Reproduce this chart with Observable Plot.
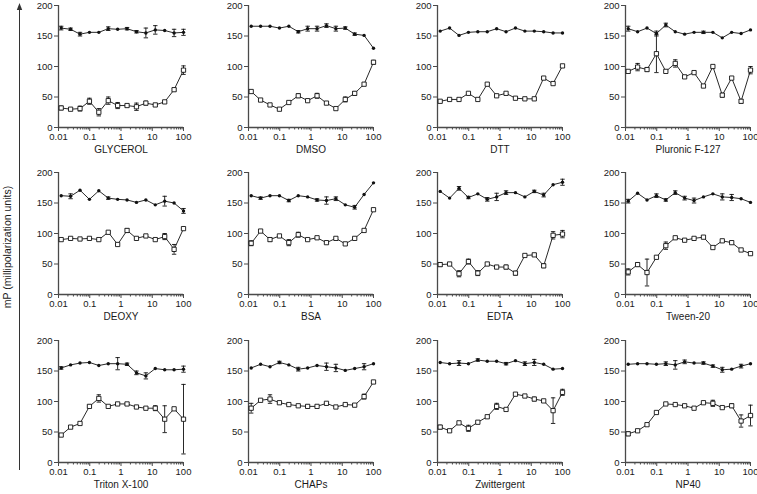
<!DOCTYPE html>
<html><head><meta charset="utf-8">
<script src="https://cdn.jsdelivr.net/npm/d3@7"></script>
<script src="https://cdn.jsdelivr.net/npm/@observablehq/plot@0.6"></script>
<style>
html,body{margin:0;padding:0;background:#fff;overflow:hidden}
#chart{position:relative;width:757px;height:494px;font-family:"Liberation Sans",Arial,sans-serif;overflow:hidden}
.panel{position:absolute;width:175px;height:159px}
.panel svg{max-width:none !important}
#overlay{position:absolute;left:0;top:0}
</style></head><body><div id="chart"></div>
<script>
// x: two-fold dilution series (concentration)
const concentrations = [0.0122, 0.0244, 0.0488, 0.0977, 0.195, 0.391, 0.781, 1.5625, 3.125, 6.25, 12.5, 25, 50, 100];
const xTicksMajor = [0.01, 0.1, 1, 10, 100];
const yTicks = [0, 50, 100, 150, 200];
const yLabel = "mP (millipolarization units)";
const panelNames = ["GLYCEROL","DMSO","DTT","Pluronic F-127","DEOXY","BSA","EDTA","Tween-20","Triton X-100","CHAPs","Zwittergent","NP40"];

// filled circles (upper series) and open squares (lower series), with error-bar half-lengths
const glycerolFilled    = [163,161,153,156,156,162,161,162,157,155,160,159,155,156];
const glycerolFilledErr = [3,2,3,0,0,3,0,2,2,8,7,0,6,5];
const glycerolOpen      = [32,30,31,43,25,44,36,36,34,40,37,42,62,94];
const glycerolOpenErr   = [3,0,4,5,6,6,5,2,6,3,2,0,2,7];

const dmsoFilled    = [166,166,166,163,166,157,162,162,167,162,163,153,151,130];
const dmsoFilledErr = [0,0,0,0,0,2,4,4,3,4,2,2,0,0];
const dmsoOpen      = [59,45,37,30,41,52,44,52,40,31,46,56,71,107];
const dmsoOpenErr   = [0,0,0,0,0,3,0,4,0,0,4,3,0,3];

const dttFilled    = [158,163,151,156,157,157,162,157,163,158,158,157,155,155];
const dttFilledErr = [0,0,0,0,0,0,0,0,0,0,0,0,0,0];
const dttOpen      = [43,46,46,56,46,71,52,56,48,47,47,81,72,101];
const dttOpenErr   = [0,0,0,0,0,0,0,0,0,0,0,0,0,0];

const pluronicFilled    = [162,157,163,154,168,157,153,156,156,156,147,156,154,160];
const pluronicFilledErr = [4,0,0,4,3,0,0,0,2,0,0,0,0,0];
const pluronicOpen      = [92,99,95,121,92,105,83,90,68,100,53,81,43,94];
const pluronicOpenErr   = [0,6,3,31,0,6,0,0,0,0,3,0,3,6];

const deoxyFilled    = [162,161,171,156,170,158,156,155,151,155,147,153,150,137];
const deoxyFilledErr = [0,4,0,0,0,2,0,0,0,0,0,8,0,4];
const deoxyOpen      = [90,92,91,92,90,102,82,105,92,96,90,95,74,108];
const deoxyOpenErr   = [0,0,0,0,0,0,0,3,0,0,0,5,8,0];

const bsaFilled    = [162,158,162,162,154,162,160,155,154,157,147,143,164,183];
const bsaFilledErr = [0,2,0,0,2,0,0,2,6,3,0,3,0,0];
const bsaOpen      = [84,104,90,96,85,98,90,93,85,92,83,92,105,139];
const bsaOpenErr   = [4,0,3,0,5,4,0,0,0,0,0,0,0,0];

const edtaFilled    = [169,158,174,159,165,156,160,167,167,160,169,163,180,184];
const edtaFilledErr = [0,0,3,2,0,3,6,3,0,0,2,3,0,5];
const edtaOpen      = [49,50,34,54,35,50,45,45,35,64,65,47,97,99];
const edtaOpenErr   = [3,0,5,4,4,0,0,3,3,0,2,3,6,6];

const tweenFilled    = [153,166,155,162,155,167,158,154,160,165,160,159,157,151];
const tweenFilledErr = [3,0,0,3,2,3,3,4,0,0,5,5,0,0];
const tweenOpen      = [37,49,36,61,80,93,89,92,94,77,88,85,73,67];
const tweenOpenErr   = [5,3,22,0,6,0,0,0,0,0,0,0,0,0];

const tritonFilled    = [155,160,163,164,159,162,162,161,147,142,154,152,152,153];
const tritonFilledErr = [2,0,0,0,0,0,10,2,3,5,0,0,0,5];
const tritonOpen      = [45,58,64,92,105,92,96,96,91,89,89,71,88,71];
const tritonOpenErr   = [0,2,0,2,6,0,0,2,0,0,4,22,0,57];

const chapsFilled    = [155,161,157,164,160,153,155,159,157,155,151,154,157,162];
const chapsFilledErr = [0,0,0,2,0,3,0,0,6,6,0,0,5,0];
const chapsOpen      = [89,102,104,98,95,93,92,92,97,91,95,94,108,132];
const chapsOpenErr   = [8,0,7,0,0,0,2,0,0,0,0,0,4,0];

const zwitterFilled    = [164,162,163,162,168,166,166,162,167,162,164,161,153,154];
const zwitterFilledErr = [0,0,4,0,2,0,0,2,0,3,5,0,0,0];
const zwitterOpen      = [58,52,65,56,66,75,92,87,112,109,104,101,85,115];
const zwitterOpenErr   = [3,0,0,5,0,0,5,0,0,0,3,0,21,5];

const np40Filled    = [161,162,162,161,162,160,165,163,163,158,152,153,158,162];
const np40FilledErr = [0,0,0,0,3,7,3,0,2,2,4,0,3,0];
const np40Open      = [47,52,62,82,96,95,93,89,98,97,90,93,68,77];
const np40OpenErr   = [3,0,0,0,0,0,0,0,0,5,0,3,10,17];

const panelSeries = [
  [glycerolFilled, glycerolFilledErr, glycerolOpen, glycerolOpenErr],
  [dmsoFilled, dmsoFilledErr, dmsoOpen, dmsoOpenErr],
  [dttFilled, dttFilledErr, dttOpen, dttOpenErr],
  [pluronicFilled, pluronicFilledErr, pluronicOpen, pluronicOpenErr],
  [deoxyFilled, deoxyFilledErr, deoxyOpen, deoxyOpenErr],
  [bsaFilled, bsaFilledErr, bsaOpen, bsaOpenErr],
  [edtaFilled, edtaFilledErr, edtaOpen, edtaOpenErr],
  [tweenFilled, tweenFilledErr, tweenOpen, tweenOpenErr],
  [tritonFilled, tritonFilledErr, tritonOpen, tritonOpenErr],
  [chapsFilled, chapsFilledErr, chapsOpen, chapsOpenErr],
  [zwitterFilled, zwitterFilledErr, zwitterOpen, zwitterOpenErr],
  [np40Filled, np40FilledErr, np40Open, np40OpenErr]
];

// minor ticks 2..9 per decade
const xTicksMinor = [];
for (let k = 0; k < 4; k++) for (let m = 2; m <= 9; m++) xTicksMinor.push(+(m * xTicksMajor[k]).toPrecision(3));

const INK = "#111";
const AXIS = "#4a4a4a";
const FONT = "'Liberation Sans', Arial, Helvetica, sans-serif";
const capSymbol = { draw(ctx, size) { const w = Math.sqrt(size / Math.PI); ctx.moveTo(-w, 0); ctx.lineTo(w, 0); } };

const colLeft = [18, 208, 397, 585];
const rowTop = [0, 167, 335];

const chart = document.getElementById("chart");

panelNames.forEach((name, p) => {
  const [f, fe, o, oe] = panelSeries[p];
  const filled = concentrations.map((c, i) => ({x: c, y: f[i], e: fe[i]}));
  const open = concentrations.map((c, i) => ({x: c, y: o[i], e: oe[i]}));
  const errs = filled.concat(open).filter(d => d.e > 0);
  const plot = Plot.plot({
    width: 175, height: 159,
    marginLeft: 40, marginRight: 10, marginTop: 5, marginBottom: 32,
    style: {fontFamily: FONT, fontSize: "9.5px", color: "#1a1a1a", background: "transparent", overflow: "visible", maxWidth: "none"},
    x: {type: "log", domain: [xTicksMajor[0], xTicksMajor[xTicksMajor.length - 1]]},
    y: {domain: [yTicks[0], yTicks[yTicks.length - 1]]},
    marks: [
      Plot.axisY({ticks: yTicks, tickSize: 4, tickPadding: 2, stroke: AXIS, label: null}),
      Plot.axisX({ticks: xTicksMajor, tickSize: 4, tickPadding: 2, stroke: AXIS, tickFormat: d => String(d), label: null}),
      Plot.axisX({ticks: xTicksMinor, tickSize: 2.5, stroke: AXIS, tickFormat: () => "", label: null}),
      Plot.ruleX([xTicksMajor[0]], {stroke: AXIS, strokeWidth: 1.3}),
      Plot.ruleY([yTicks[0]], {stroke: AXIS, strokeWidth: 1.3}),
      Plot.line(filled, {x: "x", y: "y", stroke: INK, strokeWidth: 0.9}),
      Plot.line(open, {x: "x", y: "y", stroke: INK, strokeWidth: 0.9}),
      Plot.ruleX(errs, {x: "x", y1: d => d.y - d.e, y2: d => d.y + d.e, stroke: INK, strokeWidth: 0.9}),
      Plot.dot(errs, {x: "x", y: d => d.y + d.e, symbol: capSymbol, r: 2.2, stroke: INK, strokeWidth: 0.9}),
      Plot.dot(errs, {x: "x", y: d => d.y - d.e, symbol: capSymbol, r: 2.2, stroke: INK, strokeWidth: 0.9}),
      Plot.dot(filled, {x: "x", y: "y", r: 1.7, fill: INK, stroke: "none"}),
      Plot.dot(open, {x: "x", y: "y", r: 2.4, symbol: "square", fill: "white", stroke: INK, strokeWidth: 0.9}),
      Plot.text([name], {text: d => d, frameAnchor: "bottom", dy: 25, fontSize: 10, fill: "#1a1a1a"})
    ]
  });
  const div = document.createElement("div");
  div.className = "panel";
  div.style.left = colLeft[p % 4] + "px";
  div.style.top = rowTop[Math.floor(p / 4)] + "px";
  div.appendChild(plot);
  chart.appendChild(div);
});

// shared y-axis title with upward arrow
const ns = "http://www.w3.org/2000/svg";
const ov = document.createElementNS(ns, "svg");
ov.setAttribute("id", "overlay");
ov.setAttribute("width", 30);
ov.setAttribute("height", 494);
ov.innerHTML = `
  <text transform="translate(11,247) rotate(-90)" text-anchor="middle" font-family="${FONT}" font-size="10.5" fill="#1a1a1a">${yLabel}</text>
  <line x1="19.5" y1="470" x2="19.5" y2="8" stroke="#333" stroke-width="1"/>
  <path d="M19.5,3 L16.8,10 L22.2,10 Z" fill="#333"/>`;
chart.appendChild(ov);
</script>
</body></html>
